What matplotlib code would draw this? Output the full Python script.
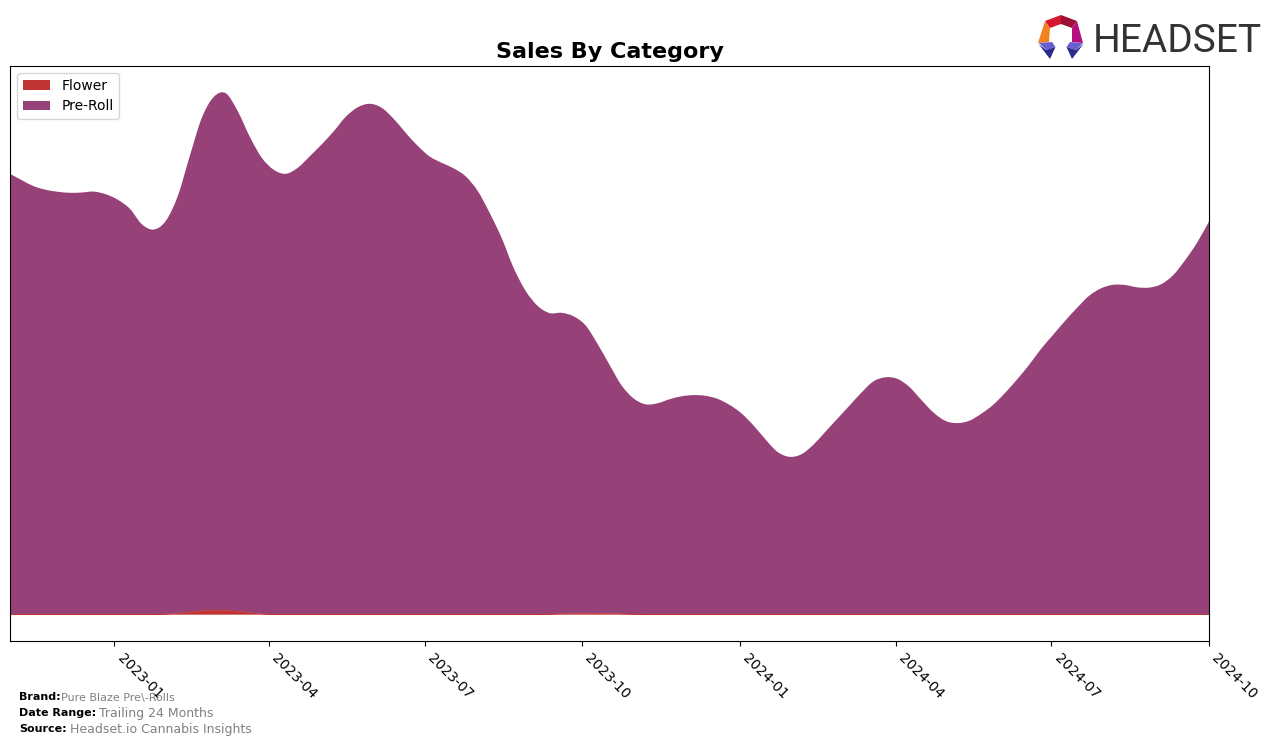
#!/usr/bin/env python3

import numpy as np
import pandas as pd
import matplotlib
matplotlib.use("Agg")
import matplotlib.dates as mdates
import matplotlib.pyplot as plt
from matplotlib.patches import Patch, PathPatch, Polygon
from matplotlib.path import Path

# weekly values (no y scale is shown, so units are arbitrary)
total_sales = [
    440.5, 434, 428, 424.5, 422.5, 421.5, 421.8, 422.7, 420, 414.5,
    405.5, 390, 384.8, 393.5, 418.5, 458.5, 496.5, 517.5, 521, 503,
    477.5, 456.5, 444.5, 440.5, 446.5, 458, 470, 483, 497.5, 507,
    510.5, 506.5, 495.5, 481.5, 468.5, 457.8, 451.5, 446, 438, 423.5,
    401.5, 376.5, 346.5, 323.5, 308.5, 301.2, 301.5, 298, 289, 270.5,
    249.5, 229, 216, 210, 211, 215, 218, 219.2, 218.5, 215.5,
    209.5, 201, 189, 175, 162.5, 157.5, 160, 169.5, 182.5, 195.5,
    208.5, 221.5, 232.8, 237, 235.5, 227.5, 214.5, 202, 193.5, 191.2,
    193.5, 200.5, 209.5, 221.5, 235, 249.5, 265.5, 279.5, 293.5, 306.5,
    318.5, 326, 329.5, 329.3, 327, 326.7, 330, 339, 354, 371.5,
    392.8,
]
flower_sales = [
    0, 0, 0, 0, 0, 0, 0, 0, 0, 0,
    0, 0, 0, 0.3, 1.0, 2.3, 3.5, 4.2, 4.0, 3.0,
    1.7, 0.5, 0, 0, 0, 0, 0, 0, 0, 0,
    0, 0, 0, 0, 0, 0, 0, 0, 0, 0,
    0, 0, 0, 0, 0, 0.2, 0.5, 0.7, 0.9, 1.0,
    0.8, 0.5, 0.2, 0, 0, 0, 0, 0, 0, 0,
    0, 0, 0, 0, 0, 0, 0, 0, 0, 0,
    0, 0, 0, 0, 0, 0, 0, 0, 0, 0,
    0, 0, 0, 0, 0, 0, 0, 0, 0, 0,
    0, 0, 0, 0, 0, 0, 0, 0, 0, 0,
    0,
]
tick_months = ["2023-01", "2023-04", "2023-07", "2023-10",
               "2024-01", "2024-04", "2024-07", "2024-10"]

WIDTH, HEIGHT = 1276, 745
FLOWER_COLOR = "#c03434"
PREROLL_COLOR = "#964178"


def curve_through(x, y):
    """Bezier segments (CURVE4) that pass through every given point."""
    pts = np.column_stack([x, y])
    verts, codes = [], []
    for i in range(len(pts) - 1):
        before = pts[max(i - 1, 0)]
        after = pts[min(i + 2, len(pts) - 1)]
        verts += [pts[i] + (pts[i + 1] - before) / 6,
                  pts[i + 1] - (after - pts[i]) / 6,
                  pts[i + 1]]
        codes += [Path.CURVE4] * 3
    return verts, codes


def add_band(ax, x, lower, upper, color, linewidth, zorder):
    """Fills between two smooth curves."""
    up_verts, up_codes = curve_through(x, upper)
    low_verts, low_codes = curve_through(x[::-1], lower[::-1])
    verts = [(x[0], upper[0])] + up_verts + [(x[-1], lower[-1])] + low_verts + [(x[0], upper[0])]
    codes = [Path.MOVETO] + up_codes + [Path.LINETO] + low_codes + [Path.CLOSEPOLY]
    ax.add_patch(PathPatch(Path(verts, codes), facecolor=color, edgecolor=color,
                           linewidth=linewidth, zorder=zorder))


def draw_logo(fig):
    """Draws the Headset mark and name in pixel coordinates."""
    ax = fig.add_axes([0, 0, 1, 1], facecolor="none")
    ax.set_xlim(0, WIDTH)
    ax.set_ylim(HEIGHT, 0)
    ax.axis("off")

    pieces = [
        ([(1045, 21), (1061, 15), (1061, 24), (1050, 28)], "#d4182f"),
        ([(1061, 15), (1077, 21), (1072, 28), (1061, 24)], "#9c1036"),
        ([(1077, 21), (1083, 43), (1072, 42), (1072, 28)], "#b5107e"),
        ([(1045, 21), (1050, 28), (1049, 42), (1038, 43)], "#f58220"),
        ([(1039, 43), (1052, 42), (1055.5, 47), (1046, 50)], "#6a5fd0"),
        ([(1038.5, 44), (1046, 50), (1055.5, 47), (1050, 59)], "#2b2d8c"),
        ([(1083, 43), (1070, 42), (1066.5, 47), (1076, 50)], "#6a5fd0"),
        ([(1083.5, 44), (1076, 50), (1066.5, 47), (1072, 59)], "#2b2d8c"),
    ]
    for points, color in pieces:
        ax.add_patch(Polygon(points, closed=True, facecolor=color, edgecolor="none"))

    ax.text(1093, 52.5, "HEADSET", fontsize=28, color="#333333", va="baseline",
            family="Roboto")


def draw_footer(fig):
    """Writes the brand, date range and source lines."""
    rows = [
        (697.5, "Brand:", "Pure Blaze Pre\\-Rolls", 61, 8),
        (713.5, "Date Range:", "Trailing 24 Months", 99, 9),
        (729.5, "Source:", "Headset.io Cannabis Insights", 70, 9),
    ]
    for y, head, value, value_x, size in rows:
        fig.text(19 / WIDTH, 1 - y / HEIGHT, head, fontsize=8, fontweight="bold",
                 va="center", color="black")
        fig.text(value_x / WIDTH, 1 - y / HEIGHT, value, fontsize=size,
                 va="center", color="gray")


def plot_sales():
    """Main function, builds the stacked chart and saves it."""
    dates = pd.date_range("2022-11-01", periods=len(total_sales), freq="7D")
    x = mdates.date2num(dates)
    flower = np.array(flower_sales)
    total = np.array(total_sales)

    fig = plt.figure(figsize=(WIDTH / 100, HEIGHT / 100), dpi=100)
    ax = fig.add_axes([10 / WIDTH, 1 - 641 / HEIGHT, 1199 / WIDTH, 575 / HEIGHT])

    add_band(ax, x, flower, total, PREROLL_COLOR, 0, 1)
    add_band(ax, x, np.zeros(len(x)), flower, FLOWER_COLOR, 0.4, 2)

    ax.xaxis_date()
    ax.set_xlim(x[0], x[-1])
    ax.set_ylim(-26.7, 548.3)
    ax.set_yticks([])
    ax.set_xticks(mdates.date2num(pd.to_datetime(tick_months)))
    ax.set_xticklabels(tick_months, rotation=-45, ha="left")
    ax.set_title("Sales By Category", fontsize=16, fontweight="bold", pad=6)
    handles = [Patch(facecolor=FLOWER_COLOR, label="Flower"),
               Patch(facecolor=PREROLL_COLOR, label="Pre-Roll")]
    ax.legend(handles=handles, loc="upper left")

    draw_logo(fig)
    draw_footer(fig)

    fig.savefig("out.png", dpi=100)
    plt.close(fig)


if __name__ == "__main__":
    plot_sales()
